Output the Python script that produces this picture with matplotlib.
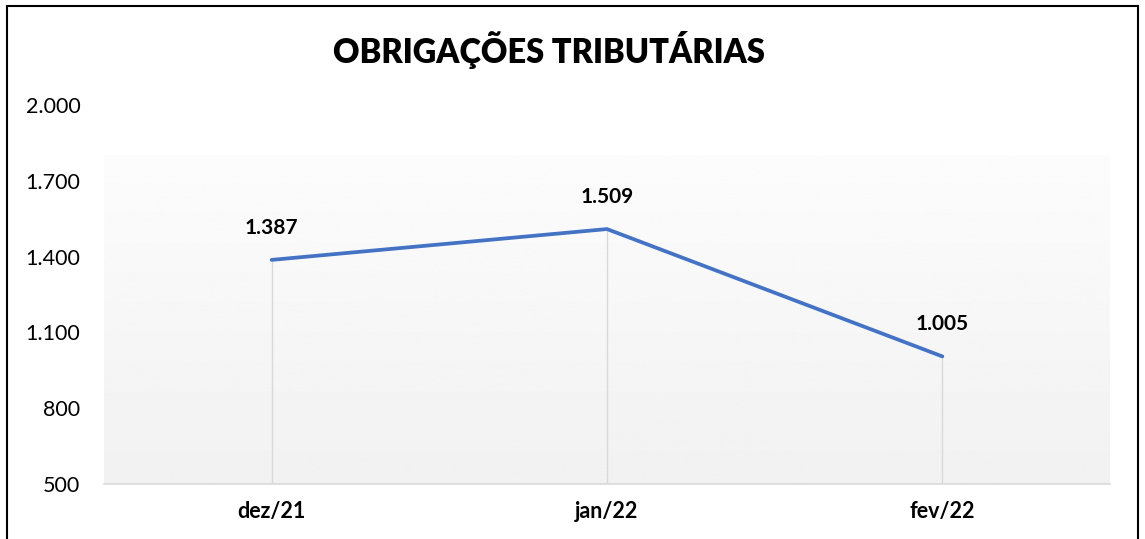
import matplotlib
matplotlib.use("Agg")
import matplotlib.pyplot as plt
import numpy as np
from matplotlib.patches import Rectangle

categories = ["dez/21", "jan/22", "fev/22"]
values = [1387, 1509, 1005]
labels = ["1.387", "1.509", "1.005"]
yticks = [500, 800, 1100, 1400, 1700, 2000]
ytick_labels = ["500", "800", "1.100", "1.400", "1.700", "2.000"]
title = "OBRIGAÇÕES TRIBUTÁRIAS"

FONT = ["Lato", "DejaVu Sans"]
plt.rcParams['font.family'] = FONT

W, H = 1145, 539
fig = plt.figure(figsize=(W / 100, H / 100), dpi=100)
fig.patch.set_facecolor("white")

ax = fig.add_axes([104 / W, 1 - 484 / H, (1110 - 104) / W, (484 - 105) / H])
ax.set_facecolor("none")
x = np.arange(len(categories))

# gradient plot-area fill (near-white at top to light gray at bottom)
grad = np.linspace(0.988, 0.945, 256).reshape(-1, 1)
ax.imshow(grad, cmap="gray", vmin=0, vmax=1, aspect="auto",
          extent=[-0.5, len(categories) - 0.5, 500, 1802], zorder=0,
          interpolation="bilinear", origin="upper")
ax.set_xlim(-0.5, len(categories) - 0.5)
ax.set_ylim(500, 2000)

# drop lines
ax.vlines(x, 500, values, colors="#D9D9D9", linewidth=1.0, zorder=1)
ax.plot(x, values, color="#4472C4", linewidth=2.7, solid_capstyle="round",
        solid_joinstyle="round", zorder=3)

for xi, v, lab in zip(x, values, labels):
    ax.annotate(lab, (xi, v), xytext=(0, 16), textcoords="offset points",
                ha="center", va="bottom", fontsize=15, fontweight="bold",
                color="black")

for s in ["top", "right", "left"]:
    ax.spines[s].set_visible(False)
ax.spines["bottom"].set_color("#D9D9D9")
ax.spines["bottom"].set_linewidth(1.2)

ax.set_yticks(yticks)
ax.set_yticklabels(ytick_labels, fontsize=15.5)
ax.set_xticks(x)
ax.set_xticklabels(categories, fontsize=15.5, fontweight="bold")
ax.tick_params(axis="y", length=0, pad=17, colors="black")
ax.tick_params(axis="x", length=0, pad=12, colors="black")

fig.text(549 / W, 1 - 50 / H, title, ha="center", va="center",
         fontsize=23.5, fontweight="heavy", color="black")

# outer border
fig.patches.append(Rectangle((7 / W, -0.05), (1138 - 7) / W, 1 - 6 / H + 0.05,
                             transform=fig.transFigure, fill=False,
                             edgecolor="black", linewidth=1.5))

fig.savefig("out.png", dpi=100)
